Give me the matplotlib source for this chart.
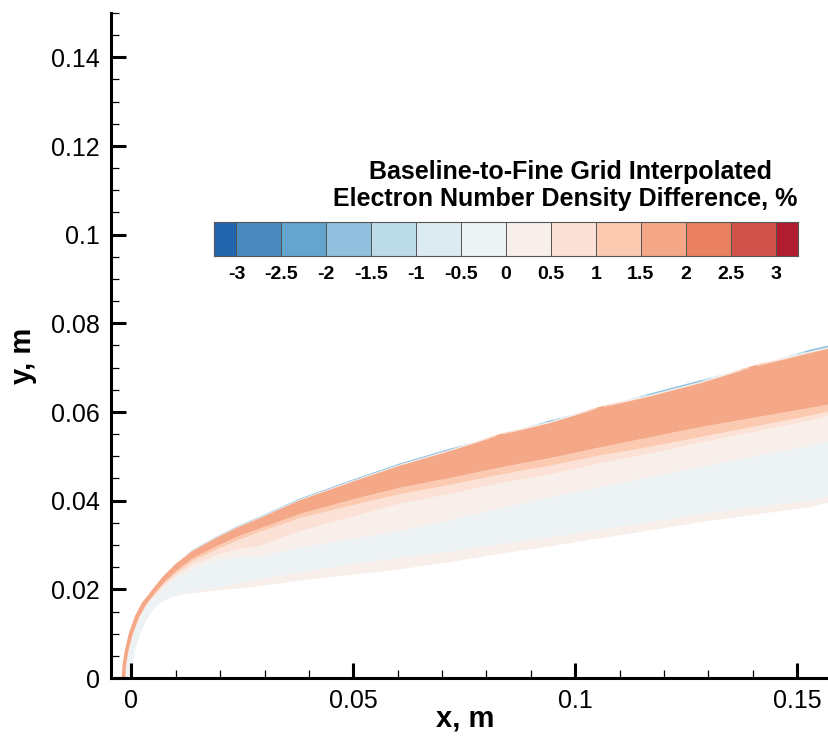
import numpy as np
import matplotlib
matplotlib.use("Agg")
import matplotlib.pyplot as plt
from matplotlib.colors import ListedColormap, BoundaryNorm
from matplotlib.ticker import MultipleLocator

plt.rcParams['font.family'] = ['Liberation Sans', 'DejaVu Sans']

# ---------------- data ----------------
# stations across the shock layer: body point and shock point (m)
body_x = [0.0000, 0.0002, 0.0008, 0.0018, 0.0035, 0.0050, 0.0066, 0.0085, 0.0110, 0.0145, 0.0190, 0.0240, 0.0290,
          0.0380, 0.0500, 0.0605, 0.0720, 0.0830, 0.0943, 0.1056, 0.1170, 0.1280, 0.1400, 0.1527, 0.1600]
body_y = [0.0000, 0.0030, 0.0060, 0.0095, 0.0133, 0.0155, 0.0170, 0.0180, 0.0187, 0.0192, 0.0197, 0.0202, 0.0207,
          0.0220, 0.0233, 0.0245, 0.0262, 0.0280, 0.0297, 0.0315, 0.0333, 0.0351, 0.0368, 0.0385, 0.0402]
shock_x = [-0.0022, -0.0020, -0.0015, -0.0006, 0.0008, 0.0024, 0.0046, 0.0070, 0.0100, 0.0135, 0.0190, 0.0240, 0.0290,
           0.0380, 0.0500, 0.0605, 0.0720, 0.0830, 0.0943, 0.1056, 0.1170, 0.1280, 0.1400, 0.1527, 0.1600]
shock_y = [0.0000, 0.0030, 0.0062, 0.0100, 0.0140, 0.0170, 0.0198, 0.0228, 0.0258, 0.0287, 0.0318, 0.0343, 0.0364,
           0.0405, 0.0448, 0.0484, 0.0518, 0.0550, 0.0581, 0.0612, 0.0642, 0.0671, 0.0704, 0.0740, 0.0757]

# fraction of the body-to-shock distance where each band ends
eta_gray_bottom = [0.00, 0.00, 0.00, 0.00, 0.00, 0.00, 0.00, 0.00, 0.02, 0.04, 0.05, 0.08, 0.10,
                   0.10, 0.11, 0.11, 0.09, 0.08, 0.07, 0.065, 0.06, 0.056, 0.05, 0.04, 0.04]
eta_gray_top = [0.58, 0.58, 0.58, 0.58, 0.58, 0.57, 0.56, 0.56, 0.56, 0.57, 0.57, 0.50, 0.43,
                0.40, 0.38, 0.36, 0.37, 0.38, 0.39, 0.39, 0.39, 0.39, 0.39, 0.39, 0.39]
eta_half_top = [0.60, 0.60, 0.60, 0.60, 0.60, 0.60, 0.61, 0.62, 0.64, 0.66, 0.66, 0.62, 0.58,
                0.60, 0.61, 0.62, 0.60, 0.59, 0.57, 0.57, 0.56, 0.56, 0.555, 0.55, 0.55]
eta_one_top = [0.62, 0.62, 0.62, 0.62, 0.62, 0.63, 0.66, 0.69, 0.72, 0.75, 0.76, 0.77, 0.78,
               0.76, 0.73, 0.71, 0.68, 0.66, 0.64, 0.63, 0.61, 0.60, 0.59, 0.58, 0.58]
eta_onehalf_top = [0.64, 0.64, 0.64, 0.64, 0.65, 0.67, 0.71, 0.75, 0.78, 0.81, 0.82, 0.83, 0.83,
                   0.81, 0.79, 0.77, 0.74, 0.72, 0.70, 0.69, 0.68, 0.67, 0.65, 0.63, 0.62]
# value in the thin layer right at the shock edge (%)
edge_value = [1.75, 1.75, 1.75, 1.75, 1.75, 1.75, 1.75, 1.75, 1.75, -1.75, -1.75, -1.75, -1.75,
              -1.75, -1.75, -1.75, -1.75, 1.75, -1.75, 1.75, -1.75, -1.75, 1.75, -1.75, -1.75]
# value in the layer at the body surface (%)
wall_value = [-0.25, -0.25, -0.25, -0.25, -0.25, -0.25, -0.25, -0.25, 0.25, 0.25, 0.25, 0.25, 0.25,
              0.25, 0.25, 0.25, 0.25, 0.25, 0.25, 0.25, 0.25, 0.25, 0.25, 0.25, 0.25]

levels = [-3.5, -3.0, -2.5, -2.0, -1.5, -1.0, -0.5, 0.0, 0.5, 1.0, 1.5, 2.0, 2.5, 3.0, 3.5]
colors = ['#2166ac', '#4a88c0', '#64a5d0', '#90c0de', '#bcdbe9', '#dceaf2', '#edf2f5',
          '#f8efea', '#fce2d6', '#fbcab0', '#f4a887', '#e98060', '#d0524b', '#b01d2e']
cbar_ticks = [-3, -2.5, -2, -1.5, -1, -0.5, 0, 0.5, 1, 1.5, 2, 2.5, 3]
cbar_ticklabels = ['-3', '-2.5', '-2', '-1.5', '-1', '-0.5', '0', '0.5', '1', '1.5', '2', '2.5', '3']
xticks = [0, 0.05, 0.1, 0.15]
xticklabels = ['0', '0.05', '0.1', '0.15']
yticks = [0, 0.02, 0.04, 0.06, 0.08, 0.1, 0.12, 0.14]
yticklabels = ['0', '0.02', '0.04', '0.06', '0.08', '0.1', '0.12', '0.14']

# ---------------- build the structured field ----------------
bx, by = np.array(body_x), np.array(body_y)
sx, sy = np.array(shock_x), np.array(shock_y)
gb, gt = np.array(eta_gray_bottom), np.array(eta_gray_top)
h5, h1, h15 = np.array(eta_half_top), np.array(eta_one_top), np.array(eta_onehalf_top)
ev, wv = np.array(edge_value), np.array(wall_value)
d = 0.004
gb_eff = np.maximum(gb, 2 * d)
ones = np.ones_like(bx)
eta_rows = [0 * ones, gb_eff - d, gb_eff + d, gt - d, gt + d, h5 - d, h5 + d,
            h1 - d, h1 + d, h15 - d, h15 + d, 0.978 * ones, 0.99 * ones, ones]
z_rows = [wv, wv, -0.25 * ones, -0.25 * ones, 0.25 * ones, 0.25 * ones, 0.75 * ones,
          0.75 * ones, 1.25 * ones, 1.25 * ones, 1.75 * ones, 1.75 * ones, ev, ev]
ETA = np.vstack(eta_rows)
Z = np.vstack(z_rows)
X = bx[None, :] + ETA * (sx - bx)[None, :]
Y = by[None, :] + ETA * (sy - by)[None, :]

# ---------------- figure ----------------
fig = plt.figure(figsize=(8.29, 7.40), dpi=100)
ax = fig.add_axes([111 / 829, 62 / 740, 718 / 829, 665 / 740])
ax.contourf(X, Y, Z, levels=levels, colors=colors, antialiased=True)

ax.set_xlim(-0.0046, 0.1572)
ax.set_ylim(0, 0.15)
for side in ['top', 'right']:
    ax.spines[side].set_visible(False)
for side in ['left', 'bottom']:
    ax.spines[side].set_linewidth(2.2)

ax.set_xticks(xticks)
ax.set_xticklabels(xticklabels)
ax.set_yticks(yticks)
ax.set_yticklabels(yticklabels)
ax.xaxis.set_minor_locator(MultipleLocator(0.01))
ax.yaxis.set_minor_locator(MultipleLocator(0.005))
ax.tick_params(which='major', direction='in', length=11, width=2.2, labelsize=18, pad=8)
ax.tick_params(which='minor', direction='in', length=6, width=0.9)
ax.tick_params(top=False, right=False, which='both')

ax.set_xlabel('x, m', fontsize=21, fontweight='bold')
ax.xaxis.label.set_va('center')
ax.xaxis.set_label_coords(0.493, -0.061)
ax.set_ylabel('y, m', fontsize=21, fontweight='bold')
ax.yaxis.label.set_va('center')
ax.yaxis.set_label_coords(-0.122, 0.485)

# ---------------- colour bar ----------------
cax = fig.add_axes([214 / 829, (740 - 256) / 740, 584 / 829, 34 / 740])
edges = [-3.25] + cbar_ticks + [3.25]
mids = [(levels[i] + levels[i + 1]) / 2 for i in range(len(levels) - 1)]
cmap = ListedColormap(colors)
norm = BoundaryNorm(levels, cmap.N)
cax.pcolormesh(edges, [0, 1], np.array(mids)[None, :], cmap=cmap, norm=norm,
               edgecolors='#555555', linewidth=0.6)
cax.set_xlim(-3.25, 3.25)
cax.set_ylim(0, 1)
cax.set_yticks([])
cax.set_xticks(cbar_ticks)
cax.set_xticklabels(cbar_ticklabels, fontsize=14, fontweight='bold')
cax.tick_params(axis='x', length=0, pad=7)
for sp in cax.spines.values():
    sp.set_color('#555555')
    sp.set_linewidth(0.8)

fig.text(772 / 829, 1 - 172 / 740, 'Baseline-to-Fine Grid Interpolated',
         ha='right', va='center', fontsize=18, fontweight='bold')
fig.text(797 / 829, 1 - 199 / 740, 'Electron Number Density Difference, %',
         ha='right', va='center', fontsize=18, fontweight='bold')

fig.savefig('out.png', dpi=100)
